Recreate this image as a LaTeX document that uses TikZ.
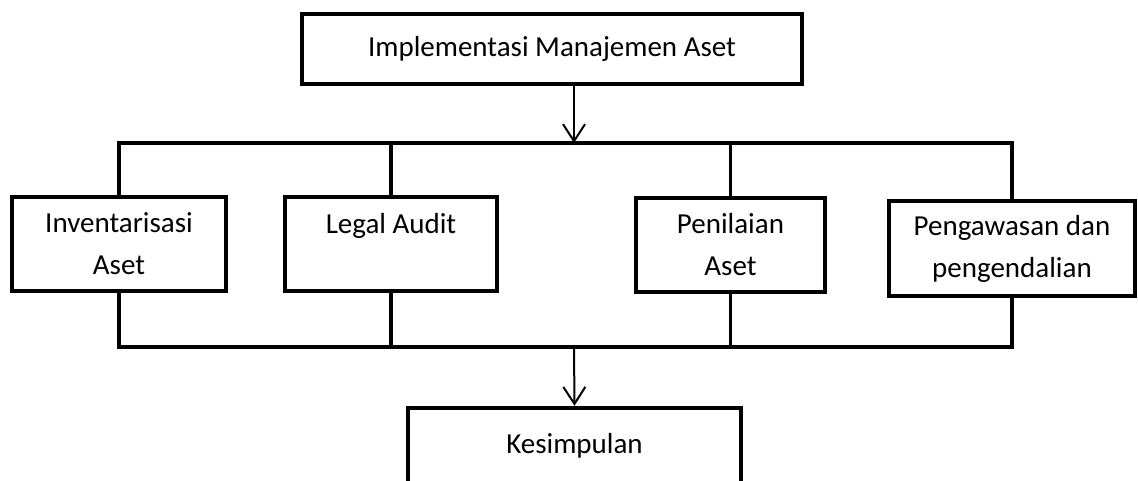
\documentclass[tikz,border=0pt]{standalone}
\usepackage{fontspec}
\setmainfont{Carlito}
\usetikzlibrary{arrows.meta}

\begin{document}
\begin{tikzpicture}[x=1pt,y=-1pt,
    box/.style={draw,line width=4.5pt,rectangle,align=center,
      font=\fontsize{29}{42}\selectfont,inner sep=0pt},
    link/.style={line width=3.5pt},
    flow/.style={line width=2pt,-{Straight Barb[length=17pt,width=22pt,line width=2pt]}}]
  \useasboundingbox (0,0) rectangle (1138,480);
  \node[box,minimum width=500,minimum height=70](top) at (552,49)
       {Implementasi Manajemen Aset};
  \node[box,minimum width=214,minimum height=94](inv) at (119,244)
       {Inventarisasi\\Aset};
  \node[box,minimum width=212,minimum height=94](la) at (391,244)
       {Legal Audit\\\mbox{}};
  \node[box,minimum width=189,minimum height=94](pn) at (730.5,245)
       {Penilaian\\Aset};
  \node[box,minimum width=246,minimum height=95](pw) at (1012,248.5)
       {Pengawasan dan\\pengendalian};
  \node[box,minimum width=333,minimum height=75](kes) at (574.5,445.5)
       {Kesimpulan};
  \coordinate(busT) at (574,143);
  \coordinate(busB) at (574,347);
  % split to the four steps
  \draw[flow] (top.south -| busT) -- (busT);
  \draw[link] (inv.north) -- (inv.north |- busT)
       -- (pw.north |- busT) -- (pw.north);
  \draw[link] (la.north) -- (la.north |- busT);
  \draw[link] (pn.north) -- (pn.north |- busT);
  % join to the conclusion
  \draw[link] (inv.south) -- (inv.south |- busB)
       -- (pw.south |- busB) -- (pw.south);
  \draw[link] (la.south) -- (la.south |- busB);
  \draw[link] (pn.south) -- (pn.south |- busB);
  \draw[flow] (busB) -- (kes.north);
\end{tikzpicture}
\end{document}
